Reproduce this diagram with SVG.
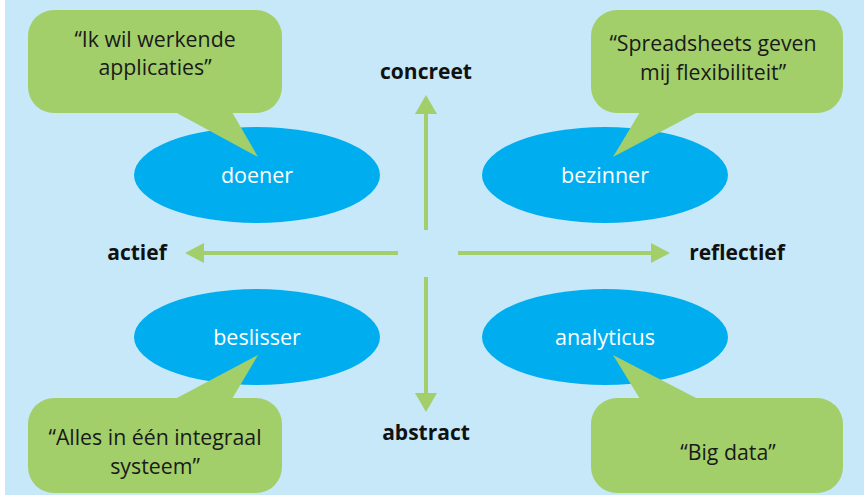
<svg xmlns="http://www.w3.org/2000/svg" width="864" height="495" viewBox="0 0 864 495">
<style>
.bg{fill:#C6E8F8}
.ell{fill:#00AEEF}
.bub{fill:#A2CF69}
.et{font-family:"Open Sans","Liberation Sans",sans-serif;font-size:21.5px;fill:#ffffff;text-anchor:middle}
.bt{font-family:"Open Sans","Liberation Sans",sans-serif;font-size:21.3px;fill:#1a1a1a;text-anchor:middle}
.ax{font-family:"Open Sans","Liberation Sans",sans-serif;font-size:21px;font-weight:bold;fill:#111;text-anchor:middle}
.ar{stroke:#A2CF69;stroke-width:4;fill:none}
.ah{fill:#A2CF69}
</style>
<rect class="bg" x="5" y="0" width="859" height="495"/>
<g id="connectors">
  <line class="ar" x1="426" y1="230" x2="426" y2="110"/>
  <polygon class="ah" points="426,95 437,114 415,114"/>
  <line class="ar" x1="426" y1="277" x2="426" y2="397"/>
  <polygon class="ah" points="426,412 437,393 415,393"/>
  <line class="ar" x1="398" y1="253" x2="200" y2="253"/>
  <polygon class="ah" points="185,253 204,243 204,263"/>
  <line class="ar" x1="458" y1="253" x2="655" y2="253"/>
  <polygon class="ah" points="670,253 651,243 651,263"/>
</g>
<g id="label-concreet"><text class="ax" x="426" y="79">concreet</text></g>
<g id="label-abstract"><text class="ax" x="426" y="440">abstract</text></g>
<g id="label-actief"><text class="ax" x="137" y="260">actief</text></g>
<g id="label-reflectief"><text class="ax" x="737" y="260">reflectief</text></g>
<g id="doener">
  <ellipse class="ell" cx="257" cy="175" rx="123" ry="48"/>
  <text class="et" x="257" y="183">doener</text>
</g>
<g id="bezinner">
  <ellipse class="ell" cx="605" cy="175" rx="123" ry="48"/>
  <text class="et" x="605" y="183">bezinner</text>
</g>
<g id="beslisser">
  <ellipse class="ell" cx="257" cy="337" rx="123" ry="48"/>
  <text class="et" x="257" y="345">beslisser</text>
</g>
<g id="analyticus">
  <ellipse class="ell" cx="605" cy="337" rx="123" ry="48"/>
  <text class="et" x="605" y="345">analyticus</text>
</g>
<g id="bubble-doener">
  <rect class="bub" x="28" y="10" width="254" height="103" rx="26"/>
  <polygon class="bub" points="175,112 232,112 258,157"/>
  <text class="bt" x="155" y="47">“Ik wil werkende</text>
  <text class="bt" x="155" y="75">applicaties”</text>
</g>
<g id="bubble-bezinner">
  <rect class="bub" x="591" y="10" width="252" height="103" rx="26"/>
  <polygon class="bub" points="640,112 698,112 613,157"/>
  <text class="bt" x="713" y="51">“Spreadsheets geven</text>
  <text class="bt" x="713" y="80">mij flexibiliteit”</text>
</g>
<g id="bubble-beslisser">
  <rect class="bub" x="28" y="398" width="254" height="95" rx="26"/>
  <polygon class="bub" points="175,399 232,399 258,355"/>
  <text class="bt" x="155" y="445">“Alles in één integraal</text>
  <text class="bt" x="155" y="474">systeem”</text>
</g>
<g id="bubble-analyticus">
  <rect class="bub" x="591" y="398" width="252" height="95" rx="26"/>
  <polygon class="bub" points="640,399 698,399 613,355"/>
  <text class="bt" x="728" y="460">“Big data”</text>
</g>
</svg>
